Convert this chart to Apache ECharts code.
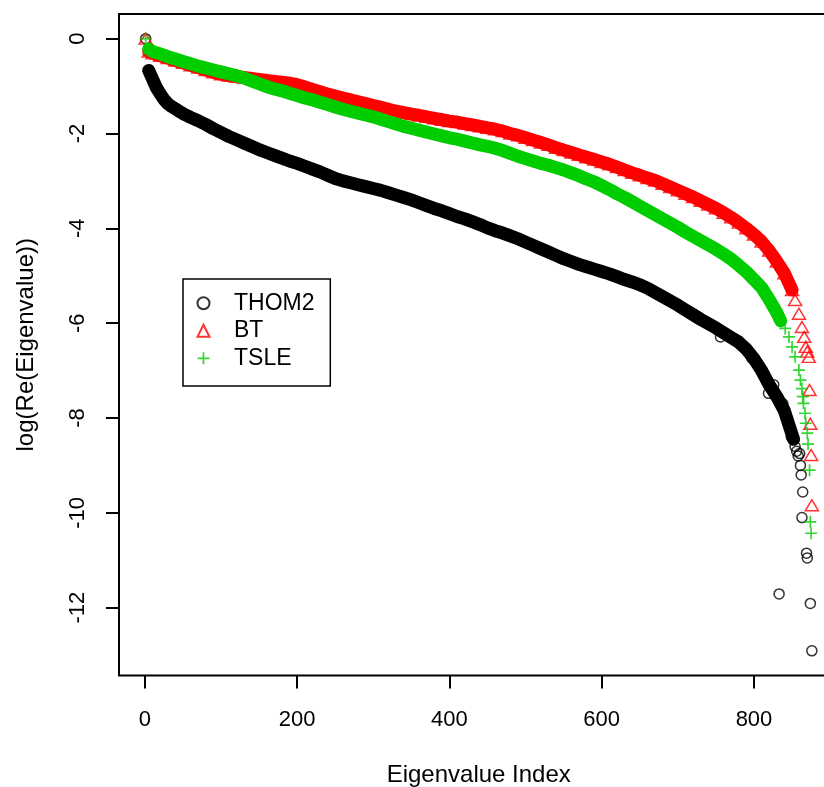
<!DOCTYPE html>
<html>
<head>
<meta charset="utf-8">
<script src="https://cdn.jsdelivr.net/npm/echarts@6/dist/echarts.min.js"></script>
<style>
html,body{margin:0;padding:0;background:#fff;}
#chart{width:824px;height:787px;}
</style>
</head>
<body>
<div id="chart"></div>
<script>
// ---- data ----
const seriesNames = ['THOM2', 'BT', 'TSLE'];
const xTicks = [0, 200, 400, 600, 800];
const yTicks = [-12, -10, -8, -6, -4, -2, 0];

// THOM2 (black circles): dense part
const thomIdx = [5,10,15,20,25,30,35,40,45,50,55,60,70,80,90,100,110,120,130,140,150,160,170,180,190,200,210,220,230,240,250,260,270,280,290,300,310,320,330,340,350,360,370,380,390,400,410,420,430,440,450,460,470,480,490,500,510,520,530,540,550,560,570,580,590,600,610,620,630,640,650,660,670,680,690,700,710,720,730,740,750,760,770,780,790,800,810,820,830,840,846,852];
const thomVal = [-0.67,-0.85,-1.03,-1.16,-1.28,-1.37,-1.43,-1.48,-1.53,-1.58,-1.62,-1.66,-1.73,-1.81,-1.90,-1.98,-2.06,-2.13,-2.20,-2.27,-2.34,-2.40,-2.46,-2.52,-2.58,-2.63,-2.69,-2.75,-2.81,-2.88,-2.95,-3.00,-3.04,-3.08,-3.12,-3.16,-3.20,-3.25,-3.30,-3.35,-3.40,-3.46,-3.52,-3.58,-3.63,-3.69,-3.75,-3.80,-3.86,-3.92,-3.99,-4.05,-4.10,-4.16,-4.22,-4.29,-4.36,-4.43,-4.50,-4.57,-4.64,-4.70,-4.76,-4.81,-4.86,-4.91,-4.96,-5.02,-5.08,-5.13,-5.19,-5.26,-5.35,-5.44,-5.53,-5.62,-5.72,-5.82,-5.92,-6.01,-6.10,-6.20,-6.30,-6.40,-6.55,-6.75,-7.00,-7.30,-7.55,-7.85,-8.15,-8.45];
// THOM2: isolated points
const thomExtraIdx = [1,756,797,819,826,838,849,854,856,858,860,861,862,864,863,869,870,833,874,876];
const thomExtraVal = [0,-6.29,-6.74,-7.48,-7.30,-7.70,-8.40,-8.60,-8.70,-8.80,-8.75,-9.00,-9.20,-9.56,-10.10,-10.85,-10.95,-11.71,-11.91,-12.91];

// BT (red triangles)
const btIdx = [5,10,20,30,40,50,60,70,80,90,100,110,120,130,140,150,160,170,180,190,200,210,220,230,240,250,260,270,280,290,300,310,320,330,340,350,360,370,380,390,400,410,420,430,440,450,460,470,480,490,500,510,520,530,540,550,560,570,580,590,600,610,620,630,640,650,660,670,680,690,700,710,720,730,740,750,760,770,780,790,800,810,820,830,840,850];
const btVal = [-0.27,-0.31,-0.36,-0.41,-0.46,-0.51,-0.56,-0.61,-0.66,-0.71,-0.75,-0.78,-0.80,-0.82,-0.84,-0.86,-0.88,-0.90,-0.92,-0.94,-0.97,-1.02,-1.07,-1.12,-1.17,-1.21,-1.25,-1.29,-1.33,-1.37,-1.41,-1.45,-1.49,-1.53,-1.56,-1.59,-1.62,-1.65,-1.68,-1.71,-1.74,-1.76,-1.79,-1.82,-1.85,-1.88,-1.91,-1.95,-2.00,-2.04,-2.09,-2.14,-2.19,-2.24,-2.30,-2.35,-2.40,-2.45,-2.50,-2.55,-2.60,-2.65,-2.71,-2.77,-2.83,-2.88,-2.94,-2.99,-3.06,-3.13,-3.20,-3.27,-3.34,-3.42,-3.50,-3.58,-3.67,-3.77,-3.88,-4.00,-4.13,-4.28,-4.47,-4.70,-4.95,-5.30];
const btExtraIdx = [1,854,859,863,866,868,870,872,873,874,875,876];
const btExtraVal = [0,-5.51,-5.80,-6.08,-6.29,-6.50,-6.60,-6.71,-7.41,-8.12,-8.78,-9.84];

// TSLE (green plus signs)
const tsleIdx = [5,10,20,30,40,50,60,70,80,90,100,110,120,130,140,150,160,170,180,190,200,210,220,230,240,250,260,270,280,290,300,310,320,330,340,350,360,370,380,390,400,410,420,430,440,450,460,470,480,490,500,510,520,530,540,550,560,570,580,590,600,610,620,630,640,650,660,670,680,690,700,710,720,730,740,750,760,770,780,790,800,810,820,830,835];
const tsleVal = [-0.22,-0.27,-0.32,-0.38,-0.43,-0.48,-0.53,-0.58,-0.62,-0.66,-0.70,-0.74,-0.78,-0.83,-0.89,-0.95,-1.01,-1.06,-1.10,-1.15,-1.20,-1.25,-1.29,-1.34,-1.39,-1.44,-1.49,-1.53,-1.57,-1.61,-1.65,-1.70,-1.75,-1.80,-1.85,-1.89,-1.93,-1.97,-2.01,-2.05,-2.09,-2.12,-2.16,-2.20,-2.24,-2.27,-2.31,-2.36,-2.42,-2.48,-2.53,-2.58,-2.63,-2.67,-2.72,-2.77,-2.83,-2.89,-2.96,-3.02,-3.10,-3.18,-3.27,-3.35,-3.44,-3.53,-3.62,-3.71,-3.80,-3.89,-3.98,-4.08,-4.17,-4.26,-4.35,-4.44,-4.54,-4.65,-4.78,-4.92,-5.08,-5.25,-5.50,-5.78,-5.95];
const tsleExtraIdx = [1,841,846,850,854,859,861,863,864,865,867,868,870,871,873,874,875];
const tsleExtraVal = [0,-6.11,-6.29,-6.50,-6.71,-6.99,-7.20,-7.38,-7.55,-7.69,-7.90,-8.11,-8.32,-8.55,-9.10,-10.19,-10.43];

// ---- chart ----
const FONT = '"Liberation Sans", Arial, Helvetica, sans-serif';
function zip(a, b) { const n = Math.min(a.length, b.length); const r = []; for (let i = 0; i < n; i++) r.push([a[i], b[i]]); return r; }

const BLACK = '#000000', RED = '#FF0000', GREEN = '#00CD00';
const PLUS = 'path://M4.3,0H5.7V4.3H10V5.7H5.7V10H4.3V5.7H0V4.3H4.3Z';

const chart = echarts.init(document.getElementById('chart'), null, {renderer: 'canvas'});

function band(name, idx, val, color, z) {
  return {type: 'line', name: name + ' band', data: zip(idx, val), showSymbol: false, symbol: 'none',
    silent: true, z: z, lineStyle: {color: color, width: 13, cap: 'round', join: 'round'}, animation: false};
}

const option = {
  animation: false,
  backgroundColor: '#ffffff',
  grid: {left: 119, top: 14, width: 719.5, height: 661.5, outerBoundsMode: 'none', containLabel: false,
    show: true, borderColor: '#000', borderWidth: 2, backgroundColor: 'transparent'},
  xAxis: {
    type: 'value', min: -34, max: 911,
    name: 'Eigenvalue Index', nameLocation: 'middle', nameGap: 88,
    nameTextStyle: {fontSize: 24, color: '#000', fontFamily: FONT},
    axisLine: {show: false, onZero: false}, splitLine: {show: false},
    axisTick: {show: true, inside: false, length: 13, lineStyle: {color: '#000', width: 2}, customValues: xTicks},
    axisLabel: {customValues: xTicks, margin: 33, fontSize: 22, color: '#000', fontFamily: FONT}
  },
  yAxis: {
    type: 'value', min: -13.43, max: 0.52,
    name: 'log(Re(Eigenvalue))', nameLocation: 'middle', nameGap: 81, nameRotate: 90,
    nameTextStyle: {fontSize: 24, color: '#000', fontFamily: FONT},
    axisLine: {show: false, onZero: false}, splitLine: {show: false},
    axisTick: {show: true, inside: false, length: 13, lineStyle: {color: '#000', width: 2}, customValues: yTicks},
    axisLabel: {customValues: yTicks, rotate: 90, margin: 30, fontSize: 22, color: '#000', fontFamily: FONT}
  },
  legend: {
    orient: 'vertical', left: 183, top: 279, selectedMode: false,
    padding: [12.8, 15.8, 16.2, 13.5], itemGap: 4.5, itemWidth: 12, itemHeight: 12,
    borderColor: '#000', borderWidth: 1.5, backgroundColor: '#fff',
    textStyle: {fontSize: 23, color: '#000', fontFamily: FONT, padding: [0, 0, 0, 19.5]},
    data: seriesNames
  },
  series: [
    band('THOM2', thomIdx, thomVal, BLACK, 2),
    {type: 'scatter', name: seriesNames[0], z: 3, data: zip(thomIdx, thomVal).concat(zip(thomExtraIdx, thomExtraVal)),
      symbol: 'circle', symbolSize: 10, itemStyle: {color: 'rgba(0,0,0,0)', borderColor: BLACK, borderWidth: 1.5}},
    band('BT', btIdx, btVal, RED, 4),
    {type: 'scatter', name: seriesNames[1], z: 5, data: zip(btIdx, btVal).concat(zip(btExtraIdx, btExtraVal)),
      symbol: 'triangle', symbolSize: [13, 11], itemStyle: {color: 'rgba(0,0,0,0)', borderColor: RED, borderWidth: 1.5}},
    band('TSLE', tsleIdx, tsleVal, GREEN, 6),
    {type: 'scatter', name: seriesNames[2], z: 7, data: zip(tsleIdx, tsleVal).concat(zip(tsleExtraIdx, tsleExtraVal)),
      symbol: PLUS, symbolSize: 12, itemStyle: {color: GREEN, borderWidth: 0}}
  ]
};
chart.setOption(option);
</script>
</body>
</html>
